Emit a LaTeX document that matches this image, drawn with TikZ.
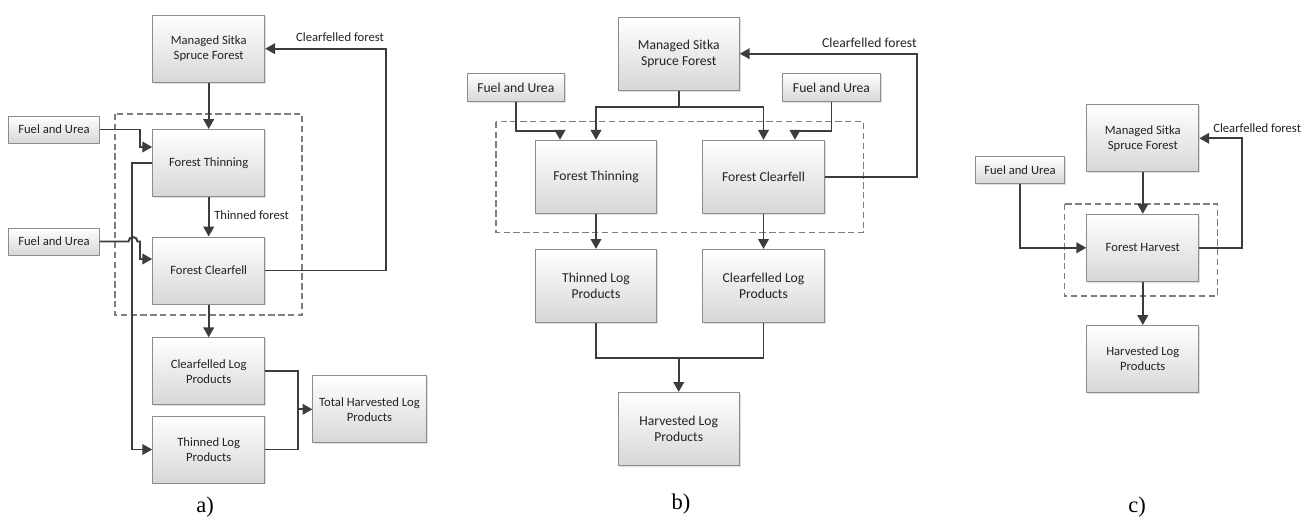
\documentclass[tikz,border=0pt]{standalone}
\usepackage{fontspec}
\setmainfont{Carlito}
\newfontfamily\capfont{Liberation Serif}
\usetikzlibrary{arrows.meta,shadows}
\definecolor{linegray}{RGB}{60,60,60}
\definecolor{boxedge}{RGB}{140,140,140}
\definecolor{boxfill}{RGB}{215,215,215}
\definecolor{dashgray}{RGB}{125,125,125}
\definecolor{textgray}{RGB}{35,35,35}

\begin{document}
\begin{tikzpicture}[x=0.025cm,y=-0.025cm,
  box/.style={draw=boxedge,line width=0.7pt,top color=white,bottom color=boxfill,
    drop shadow={shadow xshift=1pt,shadow yshift=-1pt,opacity=0.25},
    inner sep=0pt,align=center,text=textgray,font=\fontsize{9}{10.7}\selectfont,
    minimum width=2.8cm,minimum height=1.675cm},
  fuel/.style={box,minimum width=2.25cm,minimum height=0.675cm},
  boxb/.style={box,font=\fontsize{9.7}{11.5}\selectfont,minimum width=3.03cm,minimum height=1.82cm},
  fuelb/.style={boxb,minimum width=2.43cm,minimum height=0.71cm},
  lbl/.style={inner sep=0pt,text=textgray,font=\fontsize{9}{10.7}\selectfont},
  lblb/.style={lbl,font=\fontsize{9.7}{11.5}\selectfont},
  panelcap/.style={inner sep=0pt,font=\capfont\fontsize{16}{18}\selectfont},
  link/.style={draw=linegray,line width=1.4pt},
  arr/.style={link,-{Triangle[length=7pt,width=7.5pt]}},
  grp/.style={draw=dashgray,line width=0.8pt,dash pattern=on 4.5pt off 2.5pt}]
  \useasboundingbox (0,0) rectangle (1309,522);
  \draw[grp] (115,114) rectangle (302,315);
  \draw[grp] (496,121.7) rectangle (863.3,232.3);
  \draw[grp] (1064.5,204) rectangle (1217.3,296);

  \node[box] (msfA) at (208.7,48.7) {Managed Sitka\\Spruce Forest};
  \node[box] (ftA) at (208.7,163) {Forest Thinning};
  \node[box] (fcA) at (208.7,270.5) {Forest Clearfell};
  \node[box] (clpA) at (208.7,371.3) {Clearfelled Log\\Products};
  \node[box] (tlpA) at (208.7,449.5) {Thinned Log\\Products};
  \node[box,minimum width=2.83cm] (thlpA) at (369.5,409.3) {Total Harvested Log\\Products};
  \node[fuel] (fuA1) at (54,129.5) {Fuel and Urea};
  \node[fuel] (fuA2) at (54,241.5) {Fuel and Urea};
  \node[lbl] (cfA) at (340,37) {Clearfelled forest};
  \node[lbl,anchor=west] (tfA) at (214,215) {Thinned forest};
  \node[panelcap] (capA) at (205,507) {a)};

  \draw[arr] (msfA) -- (ftA);
  \draw[arr] (fuA1.east) -- (140,129.5) -- (140,147) -- (ftA.west |- 0,147);
  \draw[arr] (ftA.west) -| (132,449.5) -- (tlpA.west);
  \draw[arr] (ftA) -- (fcA);
  \draw[arr] (fuA2.east) -- (128.5,241.5) arc[start angle=180,end angle=360,radius=4.5]
    -- (140,241.5) -- (140,259) -- (fcA.west |- 0,259);
  \draw[arr] (fcA.east) -- (386,270.5) |- (msfA.east);
  \draw[arr] (fcA) -- (clpA);
  \draw[link] (clpA.east) -| (297.7,449.5) -- (tlpA.east);
  \draw[arr] (thlpA.west -| 297.7,0) -- (thlpA.west);

  \node[boxb] (msfB) at (678.7,53.7) {Managed Sitka\\Spruce Forest};
  \node[fuelb] (fuB1) at (515.8,87.5) {Fuel and Urea};
  \node[fuelb] (fuB2) at (831.5,87.5) {Fuel and Urea};
  \node[boxb] (ftB) at (596,176.7) {Forest Thinning};
  \node[boxb] (fcB) at (763.5,176.7) {Forest Clearfell};
  \node[boxb] (tlpB) at (596,285.8) {Thinned Log\\Products};
  \node[boxb] (clpB) at (763.5,285.8) {Clearfelled Log\\Products};
  \node[boxb] (hlpB) at (678.7,428.8) {Harvested Log\\Products};
  \node[lblb,anchor=east] (cfB) at (917,43) {Clearfelled forest};
  \node[panelcap] (capB) at (681,504) {b)};

  \draw[arr] (msfB.south) |- (596,107.3) -- (ftB.north);
  \draw[arr] (msfB.south) |- (763.5,107.3) -- (fcB.north);
  \draw[arr] (fuB1.south) |- (560,131) -- (ftB.north -| 560,0);
  \draw[arr] (fuB2.south) |- (795,131) -- (fcB.north -| 795,0);
  \draw[arr] (fcB.east) -- (916.7,176.7) |- (msfB.east);
  \draw[arr] (ftB) -- (tlpB);
  \draw[arr] (fcB) -- (clpB);
  \draw[link] (tlpB.south) |- (763.5,358.3) -- (clpB.south);
  \draw[arr] (hlpB.north |- 0,358.3) -- (hlpB.north);

  \node[box] (msfC) at (1142.8,138.3) {Managed Sitka\\Spruce Forest};
  \node[fuel,minimum width=2.235cm] (fuC) at (1020,170) {Fuel and Urea};
  \node[box] (fhC) at (1142.8,247.8) {Forest Harvest};
  \node[box] (hlpC) at (1142.8,359) {Harvested Log\\Products};
  \node[lbl,anchor=west] (cfC) at (1213,128) {Clearfelled forest};
  \node[panelcap] (capC) at (1137,507) {c)};

  \draw[arr] (msfC) -- (fhC);
  \draw[arr] (fuC.south) |- (fhC.west);
  \draw[arr] (fhC.east) -- (1241.7,247.8) |- (msfC.east);
  \draw[arr] (fhC) -- (hlpC);
\end{tikzpicture}
\end{document}
